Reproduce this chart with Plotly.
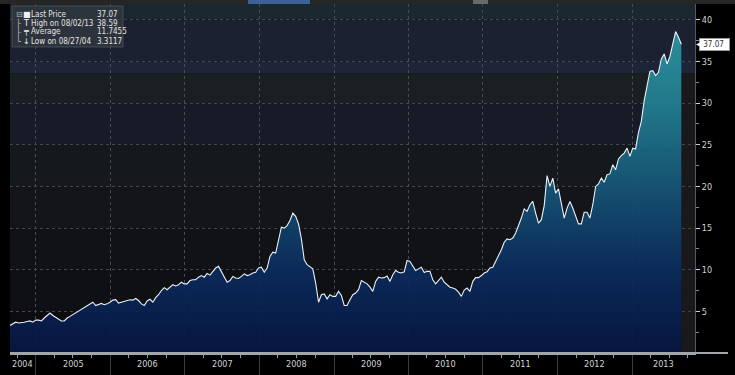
import pandas as pd
import plotly.graph_objects as go

# ---------------- data ----------------
dates = pd.date_range("2004-08-27", periods=236, freq="14D")
prices = [
    3.31, 3.55, 3.7, 3.6, 3.62, 3.7, 3.78, 3.85, 3.7, 3.95,
    3.95, 3.85, 4.2, 4.5, 4.8, 4.5, 4.25, 4.05, 3.85, 3.85,
    4.2, 4.4, 4.6, 4.85, 5.05, 5.3, 5.5, 5.7, 5.9, 6.1,
    5.7, 5.8, 5.95, 5.8, 5.9, 6.1, 6.35, 6.4, 6.0, 6.1,
    6.2, 6.25, 6.4, 6.35, 6.55, 6.3, 5.9, 5.7, 6.25, 6.45,
    6.1, 6.65, 7.0, 7.5, 7.85, 7.6, 7.9, 8.2, 8.05, 8.2,
    8.5, 8.3, 8.3, 8.7, 8.8, 8.8, 9.1, 9.3, 9.1, 9.55,
    9.35, 9.8, 10.2, 10.4, 9.8, 9.1, 8.5, 8.7, 9.2, 9.0,
    8.95, 9.2, 9.5, 9.3, 9.4, 9.6, 9.7, 10.2, 10.3, 9.7,
    10.2, 11.6, 12.1, 12.0, 13.4, 15.1, 15.0, 15.3, 15.9, 16.8,
    16.4, 15.5, 13.7, 11.2, 10.6, 10.4, 10.1, 8.4, 6.1, 7.0,
    7.1, 6.5, 7.0, 6.8, 6.8, 7.4, 6.9, 5.7, 5.7, 6.4,
    7.0, 7.2, 7.6, 8.7, 8.5, 8.3, 7.9, 7.4, 8.6, 9.1,
    9.0, 9.05, 9.25, 8.6, 9.4, 9.9, 9.7, 9.6, 9.75, 11.1,
    11.0, 10.4, 9.9, 10.1, 10.3, 9.65, 9.8, 9.8, 8.8, 8.3,
    8.65, 9.1, 8.5, 8.15, 7.9, 7.8, 7.65, 7.3, 6.8, 7.55,
    7.8, 7.4, 8.6, 9.05, 9.05, 9.3, 9.6, 9.75, 10.2, 10.3,
    11.0, 11.5, 12.4, 13.3, 13.7, 13.6, 13.8, 14.4, 15.2, 16.2,
    17.3, 17.0, 17.8, 18.2, 16.8, 15.6, 16.0, 17.7, 21.3, 20.0,
    21.0, 19.2, 19.7, 18.0, 16.2, 17.4, 18.2, 17.4, 16.4, 15.5,
    15.5, 16.9, 16.9, 16.2, 17.8, 20.0, 20.3, 21.0, 20.5, 21.4,
    21.5, 22.6, 22.0, 23.3, 23.7, 24.0, 24.6, 23.6, 24.6, 24.5,
    26.5, 27.8, 30.3, 32.0, 33.8, 33.9, 33.3, 33.7, 35.3, 35.9,
    34.7, 35.6, 37.3, 38.59, 37.9, 37.07,
]
year_labels = ["2004", "2005", "2006", "2007", "2008", "2009", "2010", "2011", "2012", "2013"]
y_ticks = [5, 10, 15, 20, 25, 30, 35, 40]
legend_labels = ["Last Price", "High on 08/02/13", "Average", "Low on 08/27/04"]
legend_values = ["37.07", "38.59", "11.7455", "3.3117"]
legend_icons = ["■", "T", "╤", "↓"]
legend_tree = ["⊟", "├", "├", "└"]
last_price = 37.07

# ---------------- layout constants ----------------
W, H = 735, 375
ML, MR, MT, MB = 10, 40, 4, 22
PW, PH = W - ML - MR, H - MT - MB
x_start = pd.Timestamp("2004-08-27")
x_end = pd.Timestamp("2013-11-05")
y_max = 41.9
NARROW = "DejaVu Sans Condensed, Liberation Sans Narrow, Liberation Sans, sans-serif"


def px_x(px):
    return (px - ML) / PW


def px_y(py):
    return (H - MB - py) / PH


fig = go.Figure()

fig.add_trace(go.Scatter(
    x=dates, y=prices, mode="lines",
    line=dict(color="#eaf0f6", width=1.1),
    fill="tozeroy",
    fillgradient=dict(
        type="vertical", start=0, stop=40,
        colorscale=[
            [0.0, "rgba(6,22,66,0.93)"],
            [0.25, "rgba(11,44,94,0.93)"],
            [0.5, "rgba(22,86,120,0.93)"],
            [0.75, "rgba(34,128,146,0.93)"],
            [1.0, "rgba(46,152,164,0.93)"],
        ],
    ),
    hoverinfo="skip", showlegend=False,
))

shapes = []
# background horizontal bands
bands = [
    (40, y_max, "#1c2830"),
    (35, 40, "#1b2130"),
    (33.6, 35, "#1f2538"),
    (30, 33.6, "#1a2022"),
    (25, 30, "#171b27"),
    (20, 25, "#15181d"),
    (15, 20, "#131519"),
    (10, 15, "#111216"),
    (5, 10, "#0f1013"),
    (0, 5, "#0d0d11"),
]
for y0, y1, c in bands:
    shapes.append(dict(type="rect", xref="paper", yref="y", x0=0, x1=1, y0=y0, y1=y1,
                       fillcolor=c, line=dict(width=0), layer="below"))
# strip between end of data and the y axis
shapes.append(dict(type="rect", xref="x", yref="y", x0=dates[-1], x1=x_end, y0=0, y1=33.6,
                   fillcolor="#19191c", line=dict(width=0), layer="below"))
# toolbar strip at top
shapes.append(dict(type="rect", xref="paper", yref="paper", x0=px_x(0), x1=px_x(735),
                   y0=px_y(4), y1=px_y(0), fillcolor="#262626", line=dict(width=0)))
shapes.append(dict(type="rect", xref="paper", yref="paper", x0=px_x(248), x1=px_x(310),
                   y0=px_y(4), y1=px_y(0), fillcolor="#3b6196", line=dict(width=0)))
shapes.append(dict(type="rect", xref="paper", yref="paper", x0=px_x(473), x1=px_x(488),
                   y0=px_y(4), y1=px_y(0), fillcolor="#6a6a6a", line=dict(width=0)))
# x axis line extension past the y axis
shapes.append(dict(type="line", xref="paper", yref="paper", x0=0, x1=px_x(728), y0=0, y1=0,
                   line=dict(color="#a3a7ad", width=2)))
# legend box
shapes.append(dict(type="rect", xref="paper", yref="paper", x0=px_x(12), x1=px_x(123),
                   y0=px_y(47), y1=px_y(6), fillcolor="rgba(50,56,64,0.8)",
                   line=dict(color="rgba(90,96,104,0.6)", width=1)))

annotations = []
# year labels centred in visible portion of each year
for lab in year_labels:
    y = int(lab)
    a = max(pd.Timestamp(f"{y}-01-01"), x_start)
    b = min(pd.Timestamp(f"{y + 1}-01-01"), x_end)
    mid = a + (b - a) / 2
    annotations.append(dict(x=mid, y=0, xref="x", yref="paper", text=lab, showarrow=False,
                            yanchor="top", yshift=-4,
                            font=dict(size=9, color="#cfd2d6", family=NARROW)))
# legend text
row_y = [14, 23, 32, 41]
for tr, ic, lab, val, ry in zip(legend_tree, legend_icons, legend_labels, legend_values, row_y):
    annotations.append(dict(x=px_x(14), y=px_y(ry), xref="paper", yref="paper", text=tr,
                            showarrow=False, xanchor="left", yanchor="middle",
                            font=dict(size=8, color="#b8bcc0", family="DejaVu Sans")))
    annotations.append(dict(x=px_x(21), y=px_y(ry), xref="paper", yref="paper", text=ic,
                            showarrow=False, xanchor="left", yanchor="middle",
                            font=dict(size=8, color="#f2f2f2", family="DejaVu Sans")))
    annotations.append(dict(x=px_x(29), y=px_y(ry), xref="paper", yref="paper", text=lab,
                            showarrow=False, xanchor="left", yanchor="middle",
                            font=dict(size=8, color="#e4e4e4", family=NARROW)))
    annotations.append(dict(x=px_x(95), y=px_y(ry), xref="paper", yref="paper", text=val,
                            showarrow=False, xanchor="left", yanchor="middle",
                            font=dict(size=8, color="#e4e4e4", family=NARROW)))
# last price tag
annotations.append(dict(x=1, y=last_price, xref="paper", yref="y", text=f" {last_price:.2f}  ",
                        showarrow=False, xanchor="left", yanchor="middle", xshift=4,
                        bgcolor="#ffffff", bordercolor="#9a9a9a", borderwidth=1, borderpad=1,
                        font=dict(size=8, color="#333333", family=NARROW)))
annotations.append(dict(x=1, y=last_price, xref="paper", yref="y", text="◀",
                        showarrow=False, xanchor="left", yanchor="middle", xshift=-1,
                        font=dict(size=6, color="#ffffff")))

year_bounds = [pd.Timestamp(f"{y}-01-01") for y in range(2005, 2014)]

fig.update_layout(
    width=W, height=H,
    margin=dict(l=ML, r=MR, t=MT, b=MB, autoexpand=False),
    paper_bgcolor="#000000",
    plot_bgcolor="#0d0d11",
    showlegend=False,
    shapes=shapes,
    annotations=annotations,
    xaxis=dict(
        type="date", range=[x_start, x_end],
        tickmode="array", tickvals=year_bounds, showticklabels=False,
        ticks="outside", ticklen=21, tickcolor="#3c3c3c", tickwidth=1,
        showgrid=True, gridcolor="#474c53", griddash="dot", gridwidth=1,
        showline=True, linecolor="#a3a7ad", linewidth=2,
        minor=dict(dtick="M3", tick0="2005-01-01", ticks="outside", ticklen=3,
                   tickcolor="#9a9ea4", showgrid=False),
        zeroline=False, fixedrange=True,
    ),
    yaxis=dict(
        side="right", range=[0, y_max],
        tickmode="array", tickvals=y_ticks,
        ticks="outside", ticklen=4, tickcolor="#d0d0d0", tickwidth=1,
        tickfont=dict(size=9, color="#cfd2d6", family=NARROW),
        showgrid=True, gridcolor="#42464d", griddash="dot", gridwidth=1,
        showline=True, linecolor="#55585e", linewidth=1,
        minor=dict(dtick=2.5, tick0=0, ticks="outside", ticklen=3, tickcolor="#8a8a8a", showgrid=False),
        zeroline=False, fixedrange=True,
    ),
)

fig.write_html("out.html", config={"displayModeBar": False},
               post_script="document.body.style.margin='0px';")
